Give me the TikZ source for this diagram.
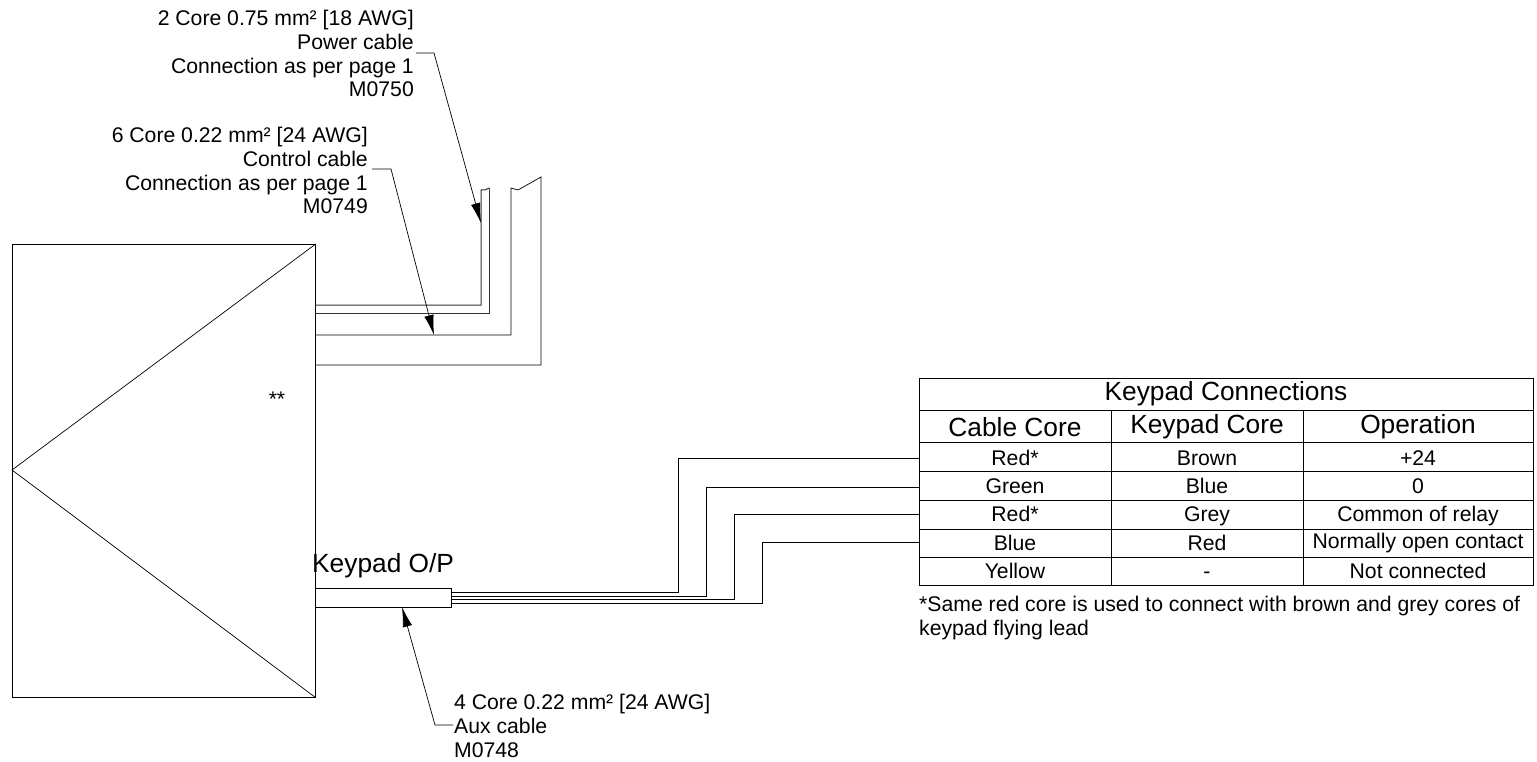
\documentclass[tikz,border=0pt]{standalone}
\usepackage{fontspec}
\setmainfont{Liberation Sans}
\usetikzlibrary{arrows.meta}
\begin{document}
\begin{tikzpicture}[x=1pt,y=-1pt,
  ln/.style={draw=black,line width=0.7pt},
  gl/.style={draw=black!80,line width=1pt},
  lead/.style={ln,-{Latex[length=20pt,width=9.5pt]}},
  lab/.style={inner sep=0pt,font=\fontsize{21.2pt}{23.8pt}\selectfont,align=right,anchor=north east},
  labl/.style={inner sep=0pt,font=\fontsize{21.2pt}{24pt}\selectfont,align=left,anchor=north west},
  cell/.style={inner sep=0pt,font=\fontsize{21.2pt}{23pt}\selectfont,anchor=base},
  head/.style={inner sep=0pt,font=\fontsize{26.3pt}{28pt}\selectfont,anchor=base}]
\useasboundingbox (0,0) rectangle (1537,762);
% enclosure
\node[draw=black,line width=0.7pt,minimum width=303pt,minimum height=453pt,inner sep=0pt,anchor=north west] (enc) at (12,244) {};
\coordinate (apex) at (12,470);
\draw[ln] (enc.north east) -- (apex) -- (enc.south east);
\node[inner sep=0pt,font=\fontsize{21.2pt}{23pt}\selectfont] (stars) at (277,399) {**};
% cables
\coordinate (a1) at (315,305); \coordinate (a2) at (481,190);
\coordinate (b1) at (315,313); \coordinate (b2) at (489,188);
\coordinate (c1) at (315,335); \coordinate (c2) at (511,188);
\coordinate (d1) at (315,365); \coordinate (d2) at (541,177);
\draw[gl] (a1) -| (a2) -- (485,190) -- (b2);
\draw[gl] (b1) -| (b2);
\draw[ln] (c1) -| (c2) -- (518,190) -- (d2) |- (d1);
% labels
\node[lab] (p) at (414,10) {2 Core 0.75 mm² [18 AWG]\\Power cable\\Connection as per page 1\\M0750};
\node[lab] (q) at (368,127) {6 Core 0.22 mm² [24 AWG]\\Control cable\\Connection as per page 1\\M0749};
\coordinate (p1) at (416,53); \coordinate (p2) at (434,53); \coordinate (pt) at (481,223);
\coordinate (q1) at (372,169); \coordinate (q2) at (391,169); \coordinate (qt) at (434,335);
\draw[lead] (p1) -- (p2) -- (pt);
\draw[lead] (q1) -- (q2) -- (qt);
% aux cable
\node[draw=black,line width=0.7pt,minimum width=136pt,minimum height=19pt,inner sep=0pt,anchor=north west] (aux) at (315,588) {};
\node[inner sep=0pt,anchor=base west,font=\fontsize{26.3pt}{28pt}\selectfont] (kp) at (312,572.5) {Keypad O/P};
\node[labl] (r) at (454,694) {4 Core 0.22 mm² [24 AWG]\\Aux cable\\M0748};
\coordinate (r1) at (453,725); \coordinate (r2) at (435,725); \coordinate (rt) at (402,607);
\draw[lead] (r1) -- (r2) -- (rt);
% table
\def\xa{919}\def\xb{1111}\def\xc{1303}\def\xd{1533}
\node[draw=black,line width=0.7pt,minimum width=614pt,minimum height=207pt,inner sep=0pt,anchor=north west] (tbl) at (919,378) {};
\foreach \y in {410,442,471,500,529,557} \draw[ln] (\xa,\y) -- (\xd,\y);
\foreach \x in {\xb,\xc} \draw[ln] (\x,410) -- (\x,585);
\coordinate (w1) at (919,458); \coordinate (w2) at (919,487); \coordinate (w3) at (919,514); \coordinate (w4) at (919,542);
\coordinate (s1) at (451,592.5); \coordinate (s2) at (451,596); \coordinate (s3) at (451,599.7); \coordinate (s4) at (451,603);
\draw[ln] (s1) -| (678,458) -- (w1);
\draw[ln] (s2) -| (706,487) -- (w2);
\draw[ln] (s3) -| (734,514) -- (w3);
\draw[ln] (s4) -| (762,542) -- (w4);
\node[head] (t0) at (1226,400) {Keypad Connections};
\node[head] (h1) at (1015,436) {Cable Core};
\node[head] (h2) at (1207,433) {Keypad Core};
\node[head] (h3) at (1418,433) {Operation};
\foreach \n/\y/\a/\b/\c in {1/465/Red*/Brown/+24,2/493/Green/Blue/0,3/521/Red*/Grey/Common of relay,4/550/Blue/Red/Normally open contact,5/578/Yellow/-/Not connected}{
  \node[cell] (c\n a) at (1015,\y) {\a};
  \node[cell] (c\n b) at (1207,\y) {\b};
  \node[cell] (c\n c) at (1418,\ifnum\n=4 548\else\y\fi) {\c};
}
\node[labl] (note) at (919,596) {*Same red core is used to connect with brown and grey cores of\\keypad flying lead};
\end{tikzpicture}
\end{document}
